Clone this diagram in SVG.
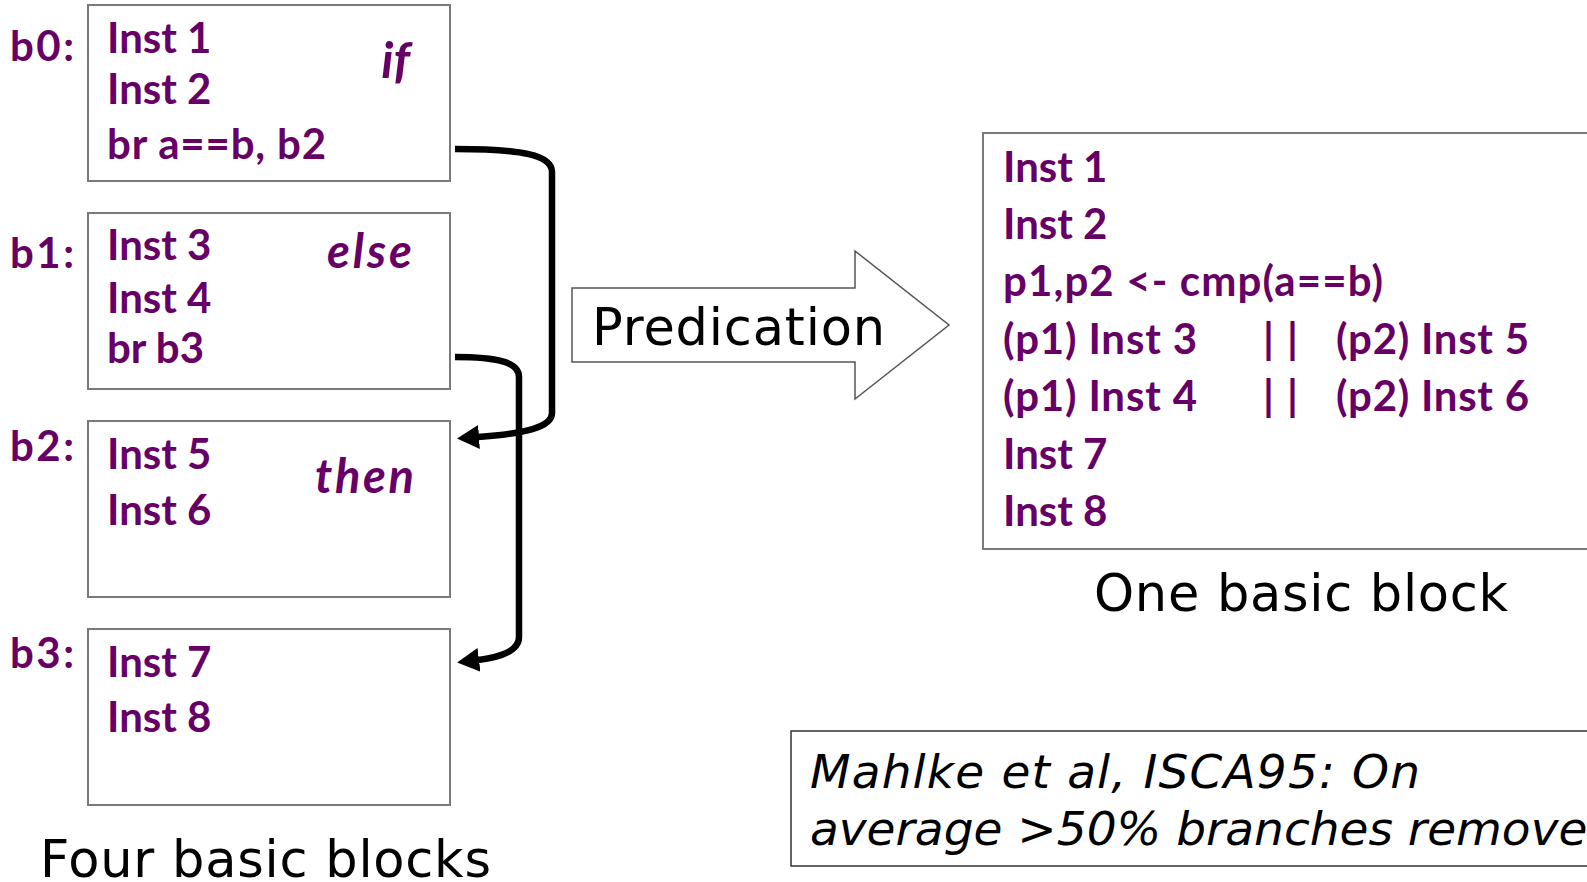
<svg xmlns="http://www.w3.org/2000/svg" width="1587" height="882" viewBox="0 0 1587 882">
<style>
.code{font-family:Lato,"Open Sans","Liberation Sans",sans-serif;font-weight:bold;font-size:42px;fill:#660066}
.kw{font-style:italic;font-size:47px}
.box{fill:#fff;stroke:#7a7a7a;stroke-width:2}
.cap{font-family:"DejaVu Sans","Liberation Sans",sans-serif;font-size:51px;fill:#000}
.cite{font-family:"DejaVu Sans","Liberation Sans",sans-serif;font-style:italic;font-size:47px;fill:#000}
.conn{fill:none;stroke:#000;stroke-width:6.5;stroke-linecap:butt}
</style>
<defs>
<marker id="ah" viewBox="0 0 22 24" refX="1" refY="12" markerWidth="22" markerHeight="24" markerUnits="userSpaceOnUse" orient="auto">
<path d="M0,0 L22,12 L0,24 z" fill="#000"/>
</marker>
</defs>
<rect width="1587" height="882" fill="#fff"/>

<g id="b0">
<rect class="box" x="88" y="5" width="362" height="176"/>
<text class="code" x="10" y="61" textLength="64">b0:</text>
<text class="code" x="107" y="53">Inst 1</text>
<text class="code" x="107" y="104">Inst 2</text>
<text class="code" x="107" y="159" textLength="219">br a==b, b2</text>
<text class="code kw" x="410" y="78" text-anchor="end" style="font-size:50px">if</text>
</g>

<g id="b1">
<rect class="box" x="88" y="213" width="362" height="176"/>
<text class="code" x="10" y="268" textLength="64">b1:</text>
<text class="code" x="107" y="260">Inst 3</text>
<text class="code" x="107" y="313">Inst 4</text>
<text class="code" x="107" y="363">br b3</text>
<text class="code kw" x="327" y="268" textLength="85">else</text>
</g>

<g id="b2">
<rect class="box" x="88" y="421" width="362" height="176"/>
<text class="code" x="10" y="461" textLength="64">b2:</text>
<text class="code" x="107" y="469">Inst 5</text>
<text class="code" x="107" y="525">Inst 6</text>
<text class="code kw" x="315" y="493" textLength="99">then</text>
</g>

<g id="b3">
<rect class="box" x="88" y="629" width="362" height="176"/>
<text class="code" x="10" y="668" textLength="64">b3:</text>
<text class="code" x="107" y="677">Inst 7</text>
<text class="code" x="107" y="732">Inst 8</text>
</g>

<text class="cap" x="40" y="877" textLength="451">Four basic blocks</text>

<g id="connectors">
<path class="conn" d="M455,149 C522,149 552,155 552,172 L552,413 C552,428 522,434 478,437" marker-end="url(#ah)"/>
<path class="conn" d="M455,357 C497,357 519,362 519,377 L519,637 C519,650 502,657 478,660" marker-end="url(#ah)"/>
</g>

<g id="predication">
<polygon points="572,288 855,288 855,251 949,325 855,399 855,362 572,362" fill="#fff" stroke="#555" stroke-width="1.5"/>
<text class="cap" x="592" y="345" textLength="293">Predication</text>
</g>

<g id="onebb">
<rect class="box" x="983" y="133" width="620" height="416"/>
<text class="code" x="1003" y="182">Inst 1</text>
<text class="code" x="1003" y="239">Inst 2</text>
<text class="code" x="1003" y="296" textLength="380">p1,p2 &lt;- cmp(a==b)</text>
<text class="code" x="1003" y="354" textLength="194">(p1) Inst 3</text>
<text class="code" x="1263" y="354" letter-spacing="13">||</text>
<text class="code" x="1336" y="354" textLength="193">(p2) Inst 5</text>
<text class="code" x="1003" y="411" textLength="194">(p1) Inst 4</text>
<text class="code" x="1263" y="411" letter-spacing="13">||</text>
<text class="code" x="1336" y="411" textLength="193">(p2) Inst 6</text>
<text class="code" x="1003" y="469">Inst 7</text>
<text class="code" x="1003" y="526">Inst 8</text>
</g>
<text class="cap" x="1094" y="611" textLength="414">One basic block</text>

<g id="citation">
<rect x="791" y="731" width="820" height="135" fill="#fff" stroke="#333" stroke-width="1.5"/>
<text class="cite" x="810" y="788" textLength="610">Mahlke et al, ISCA95: On</text>
<text class="cite" x="810" y="845">average &gt;50% branches removed</text>
</g>
</svg>
